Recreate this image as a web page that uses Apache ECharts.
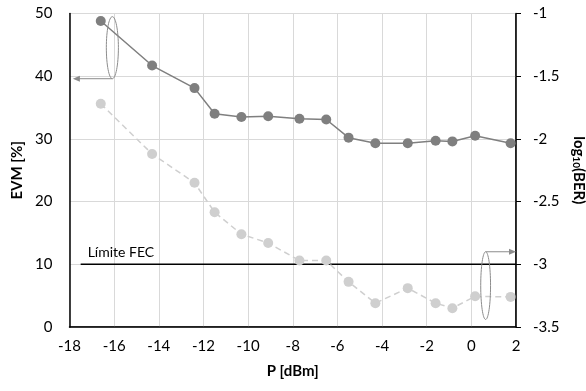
<!DOCTYPE html>
<html>
<head>
<meta charset="utf-8">
<script src="https://cdn.jsdelivr.net/npm/echarts@6/dist/echarts.min.js"></script>
<style>
html,body{margin:0;padding:0;background:#fff;}
#chart{width:586px;height:391px;}
</style>
</head>
<body>
<div id="chart"></div>
<script>
// ---- Data ----
const powerEVM = [-16.6, -14.3, -12.4, -11.5, -10.3, -9.1, -7.7, -6.5, -5.5, -4.3, -2.85, -1.6, -0.85, 0.17, 1.76];
const evmValues = [48.8, 41.7, 38.1, 34.0, 33.5, 33.6, 33.2, 33.1, 30.2, 29.3, 29.3, 29.7, 29.6, 30.5, 29.3];
const powerBER = [-16.6, -14.3, -12.4, -11.5, -10.3, -9.1, -7.7, -6.5, -5.5, -4.3, -2.85, -1.6, -0.85, 0.17, 1.76];
const berLog = [-1.72, -2.12, -2.35, -2.585, -2.76, -2.83, -2.97, -2.97, -3.14, -3.31, -3.19, -3.31, -3.35, -3.255, -3.26];
const fecX = [-17.5, 2];
const fecEVM = 10;
const fecLabel = 'Límite FEC';
const xTicks = {min: -18, max: 2, interval: 2};
const leftTicks = {min: 0, max: 50, interval: 10};
const rightTicks = {min: -3.5, max: -1, interval: 0.5};
// annotation anchors (data coordinates)
const leftEllipse = {x: -16.08, yTop: 49.5, yBot: 39.6, halfW: 0.27, arrowTo: -17.85};
const rightEllipse = {x: 0.64, yTop: -2.9, yBot: -3.44, halfW: 0.22, arrowTo: 2};

const FONT = 'Lato';
const FS = 15;
const chart = echarts.init(document.getElementById('chart'));
const gridColor = '#d9d9d9';

chart.setOption({
  animation: false,
  textStyle: {fontFamily: FONT},
  grid: {left: 69.5, right: 70, top: 13.5, bottom: 64, show: true, borderColor: '#000', borderWidth: 1, outerBoundsMode: 'none', containLabel: false},
  xAxis: {
    type: 'value', min: xTicks.min, max: xTicks.max, interval: xTicks.interval,
    axisLine: {onZero: false, lineStyle: {color: '#000', width: 1.5}},
    axisTick: {show: false},
    splitLine: {show: true, lineStyle: {color: gridColor}},
    axisLabel: {color: '#000', fontSize: FS, fontFamily: FONT, margin: 12},
    name: 'P [dBm]', nameLocation: 'middle', nameGap: 37,
    nameTextStyle: {color: '#000', fontSize: FS, fontWeight: 'bold', fontFamily: FONT}
  },
  yAxis: [{
    type: 'value', min: leftTicks.min, max: leftTicks.max, interval: leftTicks.interval,
    axisLine: {show: true, onZero: false, lineStyle: {color: '#000', width: 1.5}},
    axisTick: {show: false},
    splitLine: {show: true, lineStyle: {color: gridColor}},
    axisLabel: {color: '#000', fontSize: FS, fontFamily: FONT, margin: 17},
    name: 'EVM [%]', nameLocation: 'middle', nameGap: 38, nameRotate: 90,
    nameTextStyle: {color: '#000', fontSize: FS, fontWeight: 'bold', fontFamily: FONT}
  }, {
    type: 'value', position: 'right', min: rightTicks.min, max: rightTicks.max, interval: rightTicks.interval,
    axisLine: {show: true, onZero: false, lineStyle: {color: '#000', width: 1.5}},
    axisTick: {show: true, inside: false, length: 5, lineStyle: {color: '#000'}},
    splitLine: {show: false},
    axisLabel: {color: '#000', fontSize: FS, fontFamily: FONT, margin: 17},
    name: '{b|log}{s|10}{b|(BER)}', nameLocation: 'middle', nameGap: 55, nameRotate: -90,
    nameTextStyle: {
      color: '#000', fontSize: FS, fontWeight: 'bold', fontFamily: FONT,
      rich: {
        b: {fontSize: FS, fontWeight: 'bold', fontFamily: FONT, color: '#000'},
        s: {fontSize: 10, fontWeight: 'bold', fontFamily: FONT, color: '#000', verticalAlign: 'bottom', padding: [6, 0, 0, 0]}
      }
    }
  }],
  series: [{
    type: 'line', name: 'EVM', yAxisIndex: 0,
    data: powerEVM.map((x, i) => [x, evmValues[i]]),
    symbol: 'circle', symbolSize: 10,
    itemStyle: {color: '#7f7f7f'},
    lineStyle: {color: '#7f7f7f', width: 1.5},
    z: 5
  }, {
    type: 'line', name: 'BER', yAxisIndex: 1,
    data: powerBER.map((x, i) => [x, berLog[i]]),
    symbol: 'circle', symbolSize: 10,
    itemStyle: {color: '#cfcfcf'},
    lineStyle: {color: '#cfcfcf', width: 1.5, type: [6, 4]},
    z: 4
  }, {
    type: 'line', name: 'FEC', yAxisIndex: 0,
    data: fecX.map((x, i) => i === 0 ? {value: [x, fecEVM], label: {show: true, formatter: fecLabel, position: 'top', align: 'left', offset: [7, 0], color: '#000', fontSize: 14, fontFamily: FONT}} : [x, fecEVM]),
    symbol: 'circle', symbolSize: 0, showSymbol: true,
    itemStyle: {color: '#000'},
    lineStyle: {color: '#000', width: 1.5},
    z: 3
  }]
});

function annot() {
  const els = [];
  const stroke = '#8c8c8c';
  function ellipse(e, axisIdx, dir) {
    const c1 = chart.convertToPixel({xAxisIndex: 0, yAxisIndex: axisIdx}, [e.x, e.yTop]);
    const c2 = chart.convertToPixel({xAxisIndex: 0, yAxisIndex: axisIdx}, [e.x, e.yBot]);
    const cw = chart.convertToPixel({xAxisIndex: 0, yAxisIndex: axisIdx}, [e.x + e.halfW, e.yBot]);
    const cx = c1[0], cy = (c1[1] + c2[1]) / 2, ry = (c2[1] - c1[1]) / 2, rx = cw[0] - c1[0];
    els.push({type: 'ellipse', shape: {cx: cx, cy: cy, rx: rx, ry: ry}, style: {fill: null, stroke: stroke, lineWidth: 1}, z: 10});
    const ay = dir < 0 ? c2[1] : c1[1];
    const tx = chart.convertToPixel({xAxisIndex: 0, yAxisIndex: axisIdx}, [e.arrowTo, e.yBot])[0];
    els.push({type: 'line', shape: {x1: cx, y1: ay, x2: tx - dir * 5, y2: ay}, style: {stroke: stroke, lineWidth: 1}, z: 10});
    els.push({type: 'polygon', shape: {points: [[tx, ay], [tx - dir * 7, ay - 3], [tx - dir * 7, ay + 3]]}, style: {fill: stroke}, z: 10});
  }
  ellipse(leftEllipse, 0, -1);
  ellipse(rightEllipse, 1, 1);
  chart.setOption({graphic: els});
}
annot();
</script>
</body>
</html>
